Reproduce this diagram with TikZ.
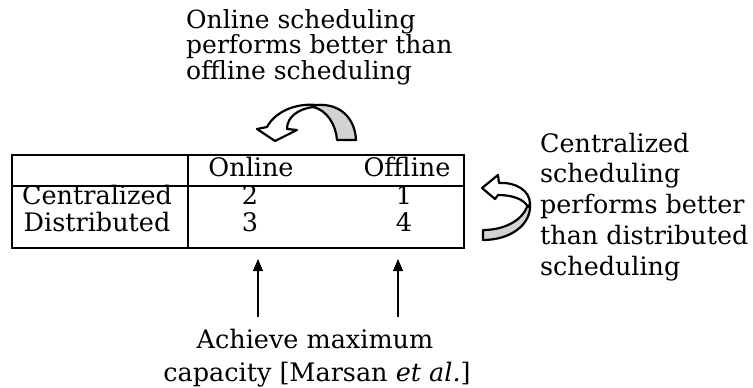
\documentclass[tikz,border=0pt]{standalone}
\usepackage{fontspec}
\setmainfont{DejaVu Serif}
\usetikzlibrary{arrows.meta}

\begin{document}
\begin{tikzpicture}[x=1pt,y=-1pt,
  txt/.style={inner sep=0pt, font=\fontsize{25.5}{30}\selectfont},
  toptxt/.style={txt, font=\fontsize{25}{30}\selectfont},
  sidetxt/.style={txt, font=\fontsize{25.4}{30}\selectfont},
  rule/.style={line width=1.7pt},
  ribbon/.style={line width=2.2pt, line join=round},
  shade/.style={ribbon, fill=gray!35},
  plain/.style={ribbon, fill=white},
  pointer/.style={line width=1.2pt, -{Triangle[length=12pt,width=10pt]}}]
\useasboundingbox (0,0) rectangle (753,388);

% table frame
\draw[rule] (12,155) rectangle (464,248);
\draw[rule] (12,186) -- (464,186);
\draw[rule] (188,155) -- (188,248);

% table entries
\node[txt, anchor=base] (hon)  at (251,176) {Online};
\node[txt, anchor=base] (hoff) at (407,176) {Offline};
\node[txt, anchor=base] (rc)   at (97,204) {Centralized};
\node[txt, anchor=base] (rd)   at (97,231) {Distributed};
\node[txt, anchor=base] (c2)   at (250,204) {2};
\node[txt, anchor=base] (c1)   at (404,204) {1};
\node[txt, anchor=base] (c3)   at (250,231) {3};
\node[txt, anchor=base] (c4)   at (404,231) {4};

% caption above
\node[toptxt, anchor=base west] (t1) at (186,28)   {Online scheduling};
\node[toptxt, anchor=base west] (t2) at (186,53.5) {performs better than};
\node[toptxt, anchor=base west] (t3) at (186,79)   {offline scheduling};

% caption on the right
\node[sidetxt, anchor=base west] (r1) at (540,152) {Centralized};
\node[sidetxt, anchor=base west] (r2) at (540,182) {scheduling};
\node[sidetxt, anchor=base west] (r3) at (540,213) {performs better};
\node[sidetxt, anchor=base west] (r4) at (540,244) {than distributed};
\node[sidetxt, anchor=base west] (r5) at (540,275) {scheduling};

% caption below
\node[txt, anchor=base] (b1) at (315,348) {Achieve maximum};
\node[txt, anchor=base] (b2) at (317,381) {capacity [Marsan \textit{et al.}]};

% pointers up to the table
\coordinate (u1) at (258,317);
\coordinate (v1) at (258,259);
\coordinate (u2) at (398,317);
\coordinate (v2) at (398,259);
\draw[pointer] (u1) -- (v1);
\draw[pointer] (u2) -- (v2);

% twisted ribbon arrow over the header (right to left)
\draw[shade] (316,105) .. controls (340,103) and (355,118) .. (356,140)
  -- (337,140) .. controls (336,125) and (327,110) .. (313,107) -- cycle;
\draw[plain] (316,105) .. controls (295,103) and (275,112) .. (267,127)
  -- (257,129) -- (275,141) -- (297,130) -- (287,129)
  .. controls (287,117) and (298,109) .. (313,107) -- cycle;

% twisted ribbon arrow beside the rows (bottom to top)
\draw[shade] (530,203) .. controls (532,225) and (510,240) .. (483,240)
  -- (483,230) .. controls (505,230) and (522,220) .. (527,207) -- cycle;
\draw[plain] (482,188) -- (498,175) -- (499,183)
  .. controls (515,182) and (530,190) .. (530,204)
  -- (528,207) .. controls (524,199) and (512,195) .. (498,195)
  -- (495,199) -- cycle;
\end{tikzpicture}
\end{document}
